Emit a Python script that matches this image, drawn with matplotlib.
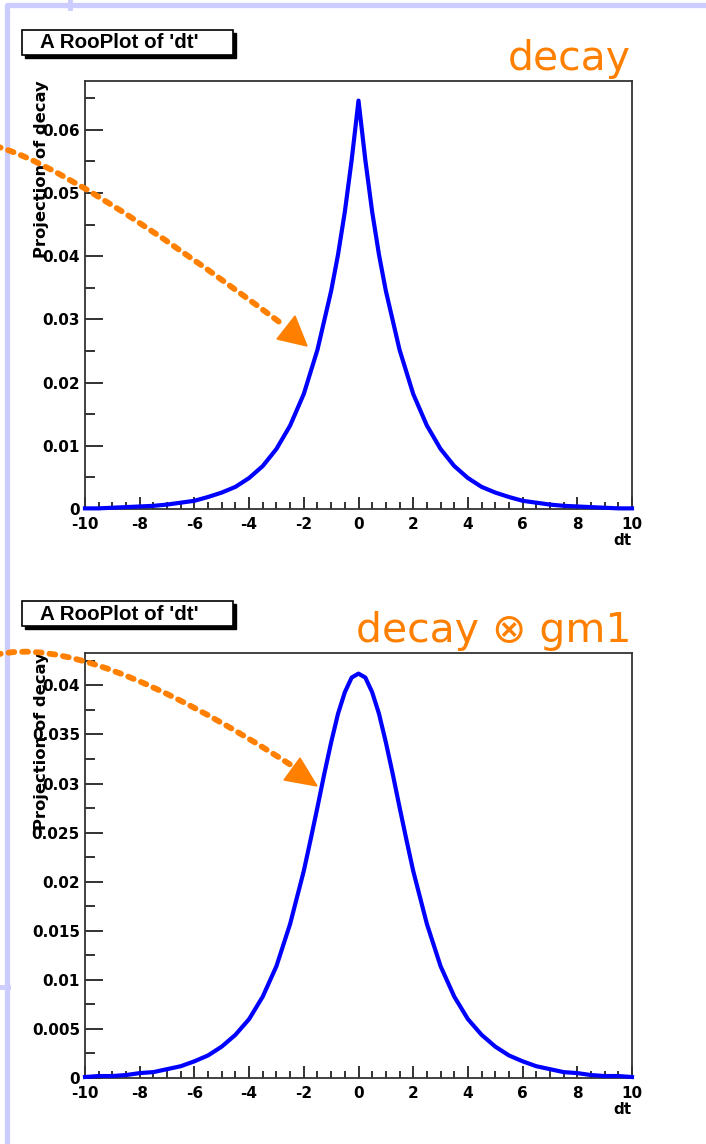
import matplotlib
matplotlib.use("Agg")
import matplotlib.pyplot as plt
from matplotlib.patches import Rectangle, Polygon, PathPatch
from matplotlib.path import Path
from matplotlib.lines import Line2D
from matplotlib.ticker import MultipleLocator, FuncFormatter

dt_top = [-10, -9.5, -9, -8.5, -8, -7.5, -7, -6.5, -6, -5.5, -5, -4.5, -4, -3.5,
          -3, -2.5, -2, -1.5, -1, -0.75, -0.5, -0.25, 0, 0.25, 0.5, 0.75, 1, 1.5,
          2, 2.5, 3, 3.5, 4, 4.5, 5, 5.5, 6, 6.5, 7, 7.5, 8, 8.5, 9, 9.5, 10]
decay_top = [0.0001, 0.0001, 0.0002, 0.0003, 0.0004, 0.0005, 0.0007, 0.0010,
             0.0013, 0.0019, 0.0026, 0.0035, 0.0049, 0.0068, 0.0095, 0.0132,
             0.0182, 0.0252, 0.0345, 0.0402, 0.0470, 0.0552, 0.0646, 0.0552,
             0.0470, 0.0402, 0.0345, 0.0252, 0.0182, 0.0132, 0.0095, 0.0068,
             0.0049, 0.0035, 0.0026, 0.0019, 0.0013, 0.0010, 0.0007, 0.0005,
             0.0004, 0.0003, 0.0002, 0.0001, 0.0001]

dt_bot = [-10, -9.5, -9, -8.5, -8, -7.5, -7, -6.5, -6, -5.5, -5, -4.5, -4, -3.5,
          -3, -2.5, -2, -1.75, -1.5, -1.25, -1, -0.75, -0.5, -0.25, 0, 0.25, 0.5,
          0.75, 1, 1.25, 1.5, 1.75, 2, 2.5, 3, 3.5, 4, 4.5, 5, 5.5, 6, 6.5, 7,
          7.5, 8, 8.5, 9, 9.5, 10]
decay_gm1 = [0.0001, 0.0002, 0.0002, 0.0003, 0.0005, 0.0006, 0.0009, 0.0012,
             0.0017, 0.0023, 0.0032, 0.0044, 0.0060, 0.0083, 0.0114, 0.0157,
             0.0211, 0.0243, 0.0276, 0.0310, 0.0342, 0.0371, 0.0393, 0.0408,
             0.0412, 0.0408, 0.0393, 0.0371, 0.0342, 0.0310, 0.0276, 0.0243,
             0.0211, 0.0157, 0.0114, 0.0083, 0.0060, 0.0044, 0.0032, 0.0023,
             0.0017, 0.0012, 0.0009, 0.0006, 0.0005, 0.0003, 0.0002, 0.0002,
             0.0001]

titles = ["decay", "decay \u2297 gm1"]
box_title = "A RooPlot of 'dt'"
y_title = "Projection of decay"

W, H = 706, 1144
ORANGE = "#ff8000"
LAVENDER = "#ccccff"

plt.rcParams["font.family"] = ["DejaVu Sans"]
plt.rcParams["font.weight"] = "bold"
plt.rcParams["axes.unicode_minus"] = False


def fx(px):
    return px / W


def fy(py):
    return 1 - py / H


def draw_panel(fig, top, bottom, x, y, ymax, ymajor, yminor, title, off):
    ax = fig.add_axes([fx(85), fy(bottom), (632 - 85) / W, (bottom - top) / H])
    ax.plot(x, y, color="#0000ff", lw=3, clip_on=False, zorder=5,
            solid_joinstyle="round")
    ax.set_xlim(-10, 10)
    ax.set_ylim(0, ymax)
    ax.xaxis.set_major_locator(MultipleLocator(2))
    ax.xaxis.set_minor_locator(MultipleLocator(0.5))
    ax.yaxis.set_major_locator(MultipleLocator(ymajor))
    ax.yaxis.set_minor_locator(MultipleLocator(yminor))
    fmt = FuncFormatter(lambda v, pos: f"{v:g}")
    ax.xaxis.set_major_formatter(fmt)
    ax.yaxis.set_major_formatter(fmt)
    ax.tick_params(which="both", direction="in", top=False, right=False,
                   width=1.3, color="#222222", labelsize=11)
    ax.tick_params(axis="x", which="major", length=8.6, pad=5.5)
    ax.tick_params(axis="x", which="minor", length=5)
    ax.tick_params(axis="y", which="major", length=13, pad=3.6)
    ax.tick_params(axis="y", which="minor", length=7)
    for s in ax.spines.values():
        s.set_linewidth(1.3)
        s.set_color("#333333")

    fig.text(fx(42), fy(top - 1), y_title, rotation=90, ha="center", va="top",
             fontsize=11.8)
    fig.text(fx(632), fy(bottom + 24), "dt", ha="right", va="top", fontsize=11)

    # ROOT style title box with shadow
    fig.add_artist(Rectangle((fx(25), fy(58 + off)), 211 / W, 25 / H,
                             transform=fig.transFigure, facecolor="black",
                             edgecolor="black", lw=1))
    fig.add_artist(Rectangle((fx(22), fy(55 + off)), 211 / W, 25 / H,
                             transform=fig.transFigure, facecolor="white",
                             edgecolor="black", lw=1.2))
    fig.text(fx(40), fy(43 + off), box_title, ha="left", va="center",
             fontsize=14.8, family=["Liberation Sans", "DejaVu Sans"])

    fig.text(fx(631), fy(top - 11), title, ha="right", va="baseline",
             fontsize=29.5, color=ORANGE, weight="normal")
    return ax


def draw_arrow(fig, p0, c, p2, head):
    verts = [(fx(a), fy(b)) for a, b in (p0, c, p2)]
    path = Path(verts, [Path.MOVETO, Path.CURVE3, Path.CURVE3])
    patch = PathPatch(path, transform=fig.transFigure, facecolor="none",
                      edgecolor=ORANGE, lw=4.2, linestyle=(0, (1.0, 1.35)),
                      capstyle="round", zorder=10)
    fig.add_artist(patch)
    fig.add_artist(Polygon([(fx(a), fy(b)) for a, b in head], closed=True,
                           transform=fig.transFigure, facecolor=ORANGE,
                           edgecolor=ORANGE, lw=1, zorder=10))


def main():
    fig = plt.figure(figsize=(W / 100, H / 100), dpi=100)

    # slide frame
    fig.add_artist(Line2D([fx(7), fx(7), fx(706)], [fy(1144), fy(5), fy(5)],
                          color=LAVENDER, lw=3.8, solid_joinstyle="round",
                          transform=fig.transFigure, zorder=1))
    fig.add_artist(Line2D([fx(70), fx(70)], [fy(0), fy(8)], color=LAVENDER,
                          lw=3.5, transform=fig.transFigure, zorder=1))
    fig.add_artist(Line2D([fx(0), fx(8)], [fy(987), fy(987)], color=LAVENDER,
                          lw=3.5, transform=fig.transFigure, zorder=1))

    draw_panel(fig, 81, 509, dt_top, decay_top, 0.0677, 0.01, 0.005,
               titles[0], 0)
    draw_panel(fig, 653, 1078, dt_bot, decay_gm1, 0.0433, 0.005, 0.0025,
               titles[1], 571)

    draw_arrow(fig, (-5, 146), (71, 166), (282, 324),
               [(307, 346), (277, 339), (295, 316)])
    draw_arrow(fig, (-5, 655), (86, 632), (294, 767),
               [(317, 786), (284, 780), (300, 758)])

    fig.savefig("out.png", dpi=100)


if __name__ == "__main__":
    main()
